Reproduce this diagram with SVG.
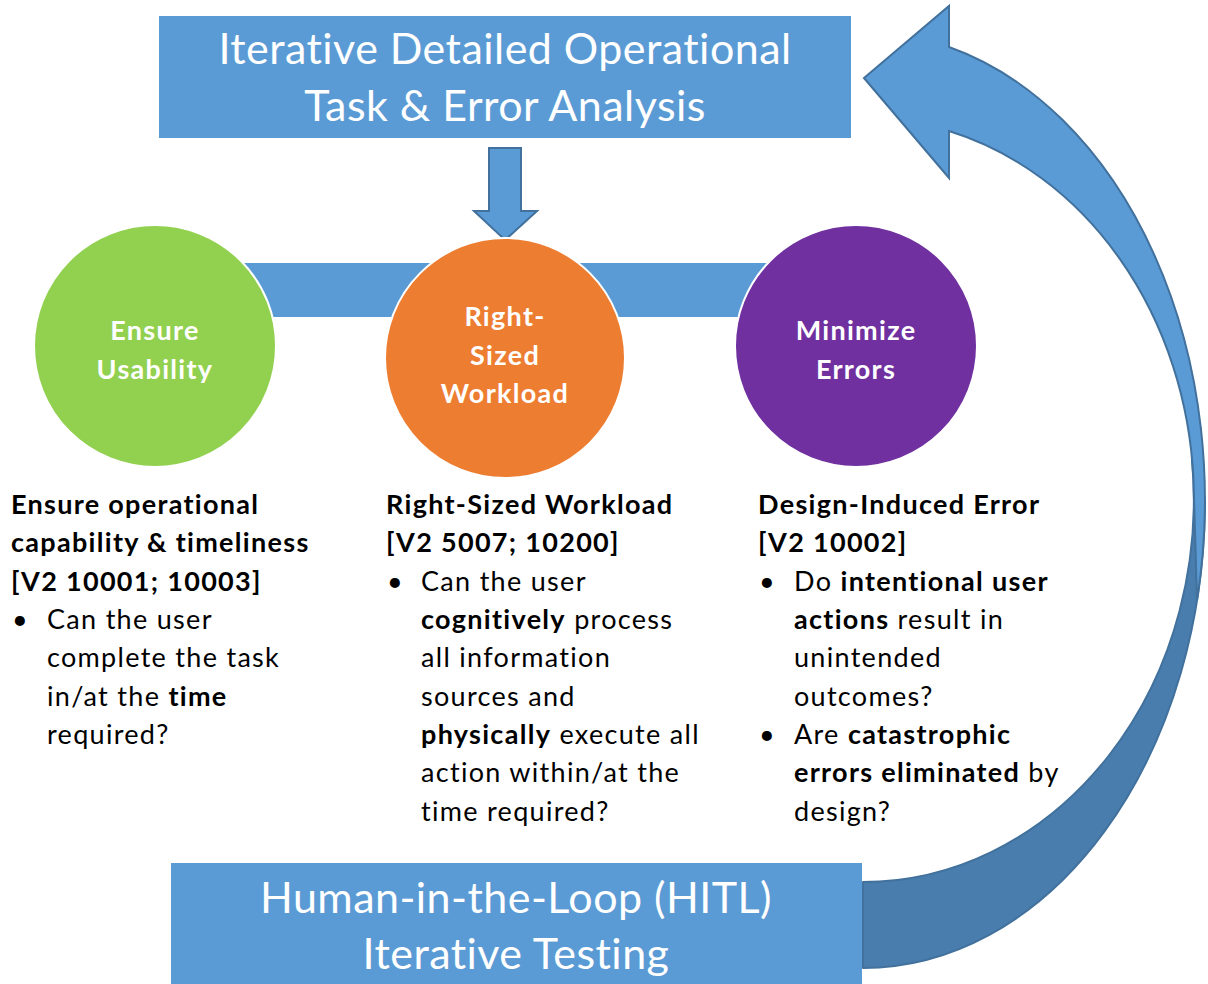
<svg xmlns="http://www.w3.org/2000/svg" width="1208" height="984" viewBox="0 0 1208 984">
<style>
.box{fill:#5B9BD5}
.title{font-family:Lato,"Open Sans",sans-serif;font-size:43px;fill:#fff;text-anchor:middle;letter-spacing:0.45px}
.ctext{font-family:Lato,"Open Sans",sans-serif;font-size:27px;font-weight:bold;fill:#fff;text-anchor:middle;letter-spacing:1.3px}
.body{font-family:Lato,"Open Sans",sans-serif;font-size:27px;fill:#000;letter-spacing:1.3px}
.b{font-weight:bold}
.circ{stroke:#fff;stroke-width:2}
.arr{fill:#5B9BD5;stroke:#41719C;stroke-width:2;stroke-linejoin:miter}
</style>
<rect width="1208" height="984" fill="#fff"/>
<g id="connectors">
<rect x="240" y="263" width="530" height="54" fill="#5B9BD5"/>
<polygon class="arr" points="489,148 521,148 521,211 537,211 505,240 474,211 489,211"/>
<path d="M 863 968 A 342 468 0 0 0 1205 500 L 1192 460 A 331 382 0 0 1 863 882 Z" fill="#497DAD" stroke="#41719C" stroke-width="2" stroke-linejoin="round"/>
<path d="M 864 78 L 949 6 L 949 47 A 342 468 0 0 1 1197 600 L 1193.5 480 A 331 382 0 0 0 949 131 L 949 178 Z" class="arr"/>
</g>
<g id="top-box">
<rect class="box" x="159" y="16" width="692" height="122"/>
<text class="title" x="505" y="64">Iterative Detailed Operational</text>
<text class="title" x="505" y="121">Task &amp; Error Analysis</text>
</g>
<g id="bottom-box">
<rect class="box" x="171" y="863" width="691" height="125"/>
<text class="title" x="516" y="913">Human-in-the-Loop (HITL)</text>
<text class="title" x="516" y="969">Iterative Testing</text>
</g>
<g id="ensure-usability">
<circle class="circ" cx="155" cy="346" r="121" fill="#92D050"/>
<text class="ctext" x="155" y="340">Ensure</text>
<text class="ctext" x="155" y="379">Usability</text>
</g>
<g id="right-sized-workload">
<circle class="circ" cx="505" cy="358" r="120" fill="#ED7D31"/>
<text class="ctext" x="505" y="326">Right-</text>
<text class="ctext" x="505" y="365">Sized</text>
<text class="ctext" x="505" y="403">Workload</text>
</g>
<g id="minimize-errors">
<circle class="circ" cx="856" cy="346" r="121" fill="#7030A0"/>
<text class="ctext" x="856" y="340">Minimize</text>
<text class="ctext" x="856" y="379">Errors</text>
</g>
<g id="text-left" class="body">
<text x="11" y="514" class="b">Ensure operational</text>
<text x="11" y="552" class="b">capability &amp; timeliness</text>
<text x="11" y="591" class="b">[V2 10001; 10003]</text>
<text x="12" y="629">•</text>
<text x="47" y="629">Can the user</text>
<text x="47" y="667">complete the task</text>
<text x="47" y="706">in/at the <tspan class="b">time</tspan></text>
<text x="47" y="744">required?</text>
</g>
<g id="text-middle" class="body">
<text x="386" y="514" class="b">Right-Sized Workload</text>
<text x="386" y="552" class="b">[V2 5007; 10200]</text>
<text x="387" y="591">•</text>
<text x="421" y="591">Can the user</text>
<text x="421" y="629"><tspan class="b">cognitively</tspan> process</text>
<text x="421" y="667">all information</text>
<text x="421" y="706">sources and</text>
<text x="421" y="744"><tspan class="b">physically</tspan> execute all</text>
<text x="421" y="782">action within/at the</text>
<text x="421" y="821">time required?</text>
</g>
<g id="text-right" class="body">
<text x="758" y="514" class="b">Design-Induced Error</text>
<text x="758" y="552" class="b">[V2 10002]</text>
<text x="759" y="591">•</text>
<text x="794" y="591">Do <tspan class="b">intentional user</tspan></text>
<text x="794" y="629"><tspan class="b">actions</tspan> result in</text>
<text x="794" y="667">unintended</text>
<text x="794" y="706">outcomes?</text>
<text x="759" y="744">•</text>
<text x="794" y="744">Are <tspan class="b">catastrophic</tspan></text>
<text x="794" y="782"><tspan class="b">errors eliminated</tspan> by</text>
<text x="794" y="821">design?</text>
</g>
</svg>
